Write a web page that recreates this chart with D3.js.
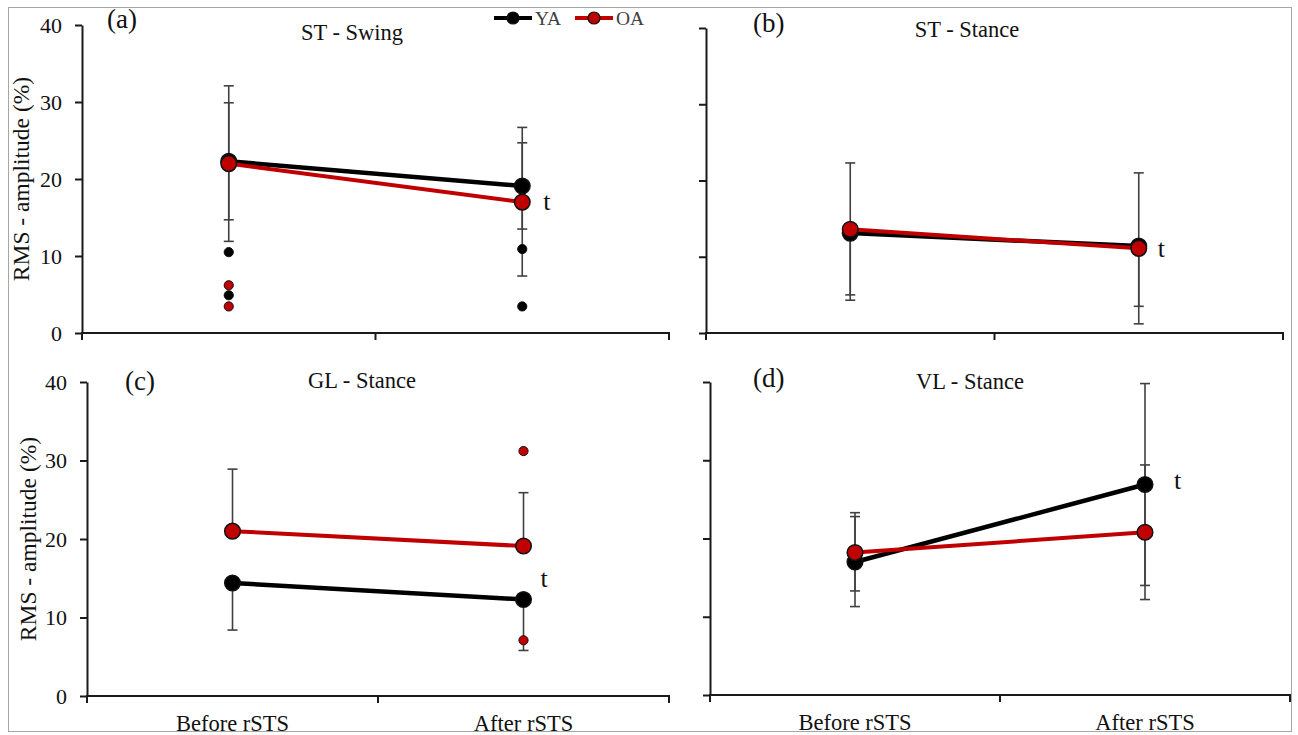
<!DOCTYPE html>
<html>
<head>
<meta charset="utf-8">
<script src="https://cdn.jsdelivr.net/npm/d3@7"></script>
<style>
  html, body { margin: 0; padding: 0; background: #fff; }
  svg { display: block; }
  text { font-family: "Liberation Serif", "Times New Roman", serif; }
</style>
</head>
<body>
<svg id="chart" width="1298" height="735"></svg>
<script>
// ---------------- data ----------------
const categories = ["Before rSTS", "After rSTS"];
const panelLabels = ["(a)", "(b)", "(c)", "(d)"];
const panelTitles = ["ST - Swing", "ST - Stance", "GL - Stance", "VL - Stance"];
const seriesNames = ["YA", "OA"];
const yTicks = [0, 10, 20, 30, 40];
const yTitle = "RMS - amplitude (%)";

// means [panel][category]
const yaMean = [[22.3, 19.1], [13.1, 11.4], [14.4, 12.3], [17.0, 26.9]];
const oaMean = [[22.0, 17.0], [13.6, 11.1], [21.0, 19.1], [18.2, 20.8]];
// error bars (null = not drawn)
const yaErrPlus  = [[7.6, 5.6], [null, null], [null, null], [5.8, 12.9]];
const yaErrMinus = [[7.6, 5.6], [8.8, 7.9],   [6.0, 6.5],   [5.7, 12.9]];
const oaErrPlus  = [[10.1, 9.7], [8.7, 9.9], [7.9, 6.8], [5.1, 8.6]];
const oaErrMinus = [[10.1, 9.6], [8.6, 9.9], [null, null], [4.9, 8.6]];
// outliers: [panel, series index, category index, value]
const outlierPanel  = [0, 0, 0, 0, 0, 0, 2, 2];
const outlierSeries = [0, 0, 1, 1, 0, 0, 1, 1];
const outlierCat    = [0, 0, 0, 0, 1, 1, 1, 1];
const outlierValue  = [10.5, 4.9, 6.2, 3.45, 10.9, 3.45, 31.2, 7.1];
// "t" annotation value (baseline) per panel
const tText = "t";
const tValue = [16.0, 10.0, 13.9, 26.3];

// ---------------- layout ----------------
const layout = [
  { x0: 82,  x1: 669,  yTop: 25,  yBot: 333, lab: [107, 28],  tit: [352, 40],  yTitleX: 29, tickLabels: true,  cats: false, tDx: 21 },
  { x0: 706, x1: 1283, yTop: 28,  yBot: 333, lab: [753, 32],  tit: [967, 37],  yTitleX: null, tickLabels: false, cats: false, tDx: 19 },
  { x0: 87,  x1: 669,  yTop: 382, yBot: 696, lab: [125, 390], tit: [362, 388], yTitleX: 36, tickLabels: true,  cats: true,  tDx: 17 },
  { x0: 710, x1: 1290, yTop: 382, yBot: 695, lab: [753, 387], tit: [970, 389], yTitleX: null, tickLabels: false, cats: true,  tDx: 29 }
];
const colors = ["#000000", "#C00000"];
const lineW = [4.5, 4];
const errColor = "#404040";

const svg = d3.select("#chart");

// outer border
svg.append("rect").attr("x", 8.5).attr("y", 7.5).attr("width", 1283).attr("height", 724)
  .attr("fill", "none").attr("stroke", "#a6a6a6").attr("stroke-width", 1);

const means = [yaMean, oaMean];
const errP = [yaErrPlus, oaErrPlus];
const errM = [yaErrMinus, oaErrMinus];

layout.forEach((L, p) => {
  const g = svg.append("g");
  const x = d3.scaleBand().domain(categories).range([L.x0, L.x1]).padding(0);
  const y = d3.scaleLinear().domain([0, 40]).range([L.yBot, L.yTop]);
  const cx = c => x(categories[c]) + x.bandwidth() / 2;

  // y axis
  const yAx = g.append("g").attr("transform", `translate(${L.x0},0)`)
    .call(d3.axisLeft(y).tickValues(yTicks).tickSize(7).tickSizeOuter(0).tickPadding(13));
  yAx.select(".domain").attr("stroke", "#1a1a1a").attr("stroke-width", 2);
  yAx.selectAll(".tick line").attr("stroke", "#1a1a1a").attr("stroke-width", 2);
  yAx.selectAll(".tick text").attr("font-size", 22).attr("fill", "#111")
    .attr("font-family", "Liberation Serif").attr("dy", "0.34em")
    .style("display", L.tickLabels ? null : "none");

  // x axis: ticks at band boundaries
  const bounds = categories.map(c => x(c)).concat([L.x1]);
  const xAx = g.append("g").attr("transform", `translate(0,${L.yBot})`)
    .call(d3.axisBottom(x).tickSize(0).tickSizeOuter(0).tickPadding(19));
  xAx.select(".domain").attr("stroke", "#1a1a1a").attr("stroke-width", 2)
    .attr("d", `M${L.x0 - 1},0H${L.x1 + 1}`);
  xAx.selectAll(".tick text").attr("font-size", 22.5).attr("fill", "#111")
    .attr("font-family", "Liberation Serif")
    .style("display", L.cats ? null : "none");
  xAx.selectAll(".bt").data(bounds).enter().append("line").attr("class", "bt")
    .attr("x1", d => d).attr("x2", d => d).attr("y1", 0).attr("y2", 7)
    .attr("stroke", "#1a1a1a").attr("stroke-width", 2);

  // y title
  if (L.yTitleX !== null) {
    g.append("text").attr("transform", `translate(${L.yTitleX},${(L.yTop + L.yBot) / 2}) rotate(-90)`)
      .attr("text-anchor", "middle").attr("font-size", 23.5).attr("fill", "#111").text(yTitle);
  }
  // panel label & title
  g.append("text").attr("x", L.lab[0]).attr("y", L.lab[1]).attr("font-size", 27).attr("fill", "#111").text(panelLabels[p]);
  g.append("text").attr("x", L.tit[0]).attr("y", L.tit[1]).attr("text-anchor", "middle")
    .attr("font-size", 22.5).attr("fill", "#111").text(panelTitles[p]);

  // error bars
  [0, 1].forEach(s => {
    categories.forEach((c, ci) => {
      const m = means[s][p][ci], up = errP[s][p][ci], dn = errM[s][p][ci];
      const top = up === null ? m : m + up;
      const bot = dn === null ? m : m - dn;
      const X = cx(ci);
      g.append("line").attr("x1", X).attr("x2", X).attr("y1", y(top)).attr("y2", y(bot))
        .attr("stroke", errColor).attr("stroke-width", 1.6);
      if (up !== null) g.append("line").attr("x1", X - 5).attr("x2", X + 5).attr("y1", y(top)).attr("y2", y(top))
        .attr("stroke", errColor).attr("stroke-width", 1.6);
      if (dn !== null) g.append("line").attr("x1", X - 5).attr("x2", X + 5).attr("y1", y(bot)).attr("y2", y(bot))
        .attr("stroke", errColor).attr("stroke-width", 1.6);
    });
  });

  // outliers
  outlierValue.forEach((v, i) => {
    if (outlierPanel[i] !== p) return;
    g.append("circle").attr("cx", cx(outlierCat[i])).attr("cy", y(v)).attr("r", 4.6)
      .attr("fill", colors[outlierSeries[i]]).attr("stroke", "#111").attr("stroke-width", 1);
  });

  // series lines + markers
  const line = d3.line().x((d, i) => cx(i)).y(d => y(d));
  [0, 1].forEach(s => {
    g.append("path").datum(means[s][p]).attr("d", line).attr("fill", "none")
      .attr("stroke", colors[s]).attr("stroke-width", lineW[s]);
    g.selectAll(null).data(means[s][p]).enter().append("circle")
      .attr("cx", (d, i) => cx(i)).attr("cy", d => y(d)).attr("r", 7.8)
      .attr("fill", colors[s]).attr("stroke", "#111").attr("stroke-width", 1.5);
  });

  // "t"
  g.append("text").attr("x", cx(1) + L.tDx).attr("y", y(tValue[p])).attr("font-size", 26)
    .attr("fill", "#111").text(tText);
});

// legend
const leg = svg.append("g");
const legX = [494, 575];
seriesNames.forEach((n, s) => {
  const lx = legX[s];
  leg.append("line").attr("x1", lx).attr("x2", lx + 38).attr("y1", 18).attr("y2", 18)
    .attr("stroke", colors[s]).attr("stroke-width", 4);
  leg.append("circle").attr("cx", lx + 19).attr("cy", 18).attr("r", 6)
    .attr("fill", colors[s]).attr("stroke", "#111").attr("stroke-width", 1.2);
  leg.append("text").attr("x", lx + 41).attr("y", 25).attr("font-size", 19.5).attr("fill", "#404040").text(n);
});
</script>
</body>
</html>
